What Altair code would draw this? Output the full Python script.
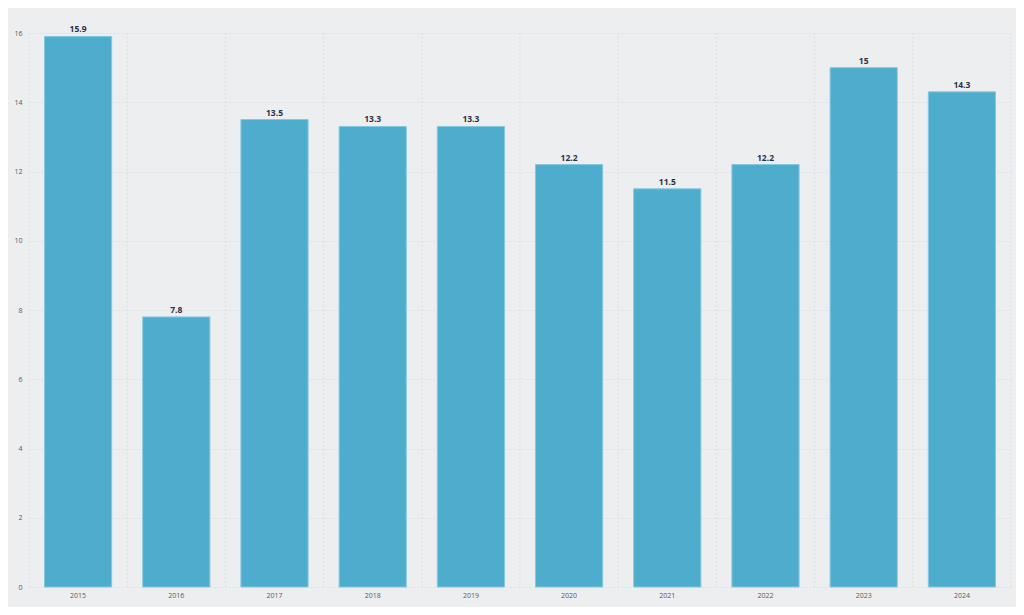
import altair as alt
import pandas as pd

years = ["2015", "2016", "2017", "2018", "2019", "2020", "2021", "2022", "2023", "2024"]
values = [15.9, 7.8, 13.5, 13.3, 13.3, 12.2, 11.5, 12.2, 15.0, 14.3]
labels = ["15.9", "7.8", "13.5", "13.3", "13.3", "12.2", "11.5", "12.2", "15", "14.3"]

df = pd.DataFrame({"year": years, "value": values, "label": labels})

STEP = 982 / 10.0
GRID = "#dde0e4"

x = alt.X("year:N", sort=years, title=None,
          scale=alt.Scale(paddingInner=0.316, paddingOuter=0.158),
          axis=alt.Axis(labelAngle=0, grid=False, ticks=False, domain=False,
                        labelFontSize=7, labelColor="#555a66", labelPadding=4))
y = alt.Y("value:Q", title=None,
          scale=alt.Scale(domain=[0, 16], nice=False),
          axis=alt.Axis(values=[0, 2, 4, 6, 8, 10, 12, 14, 16], ticks=False, domain=False,
                        labelFontSize=7, labelColor="#555a66", labelPadding=7,
                        gridColor=GRID, gridDash=[2, 2]))

grid_left = alt.Chart(df).mark_rule(color=GRID, strokeDash=[2, 2], strokeWidth=1,
                                    xOffset=-STEP / 2).encode(
    x=x, y=alt.value(0), y2=alt.value(554))
grid_right = alt.Chart(df).transform_filter(alt.datum.year == years[-1]).mark_rule(
    color=GRID, strokeDash=[2, 2], strokeWidth=1, xOffset=STEP / 2).encode(
    x=x, y=alt.value(0), y2=alt.value(554))

bars = alt.Chart(df).mark_bar(color="#4EACCD", stroke="#86c8e0", strokeWidth=1).encode(x=x, y=y)
text = alt.Chart(df).mark_text(dy=-7, fontSize=8.5, fontWeight="bold", color="#2b3348",
                               font="Open Sans").encode(x=x, y=y, text="label:N")

chart = (grid_left + grid_right + bars + text).properties(
    width=982, height=554,
    autosize=alt.AutoSizeParams(type="none"),
    padding={"left": 21, "top": 25, "right": 5, "bottom": 20},
    background="#ECEEF0",
).configure_view(stroke=None).configure_axis(labelFont="Open Sans")

chart.save("out.html", embed_options={"renderer": "svg", "actions": False})
